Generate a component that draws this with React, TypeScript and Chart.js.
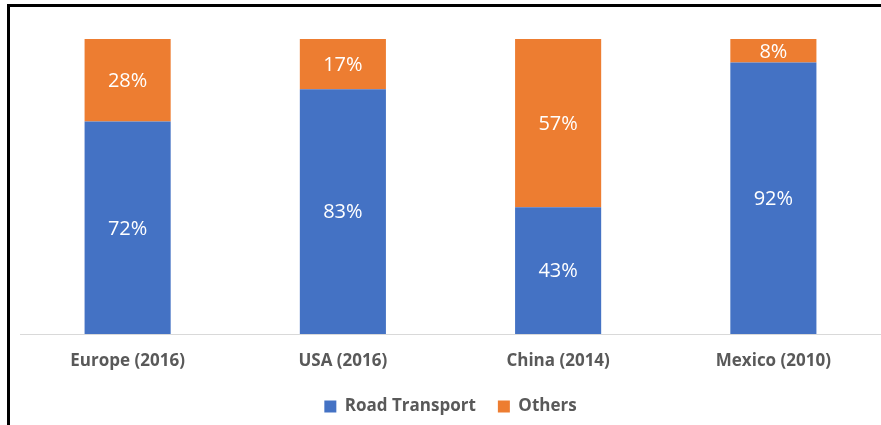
import React, { useEffect, useRef } from "react";
import { Chart, registerables } from "chart.js";

Chart.register(...registerables);

const categories = ["Europe (2016)", "USA (2016)", "China (2014)", "Mexico (2010)"];
const roadTransport = [72, 83, 43, 92];
const others = [28, 17, 57, 8];

const AXIS_Y = 334;
const BOTTOM_PAD = 0;

const frameLines = {
  id: "frameLines",
  afterDraw(chart: any) {
    const ctx = chart.ctx;
    ctx.save();
    ctx.fillStyle = "#000000";
    ctx.fillRect(7, 4, 881, 3);
    ctx.fillRect(7, 4, 3, 425);
    ctx.restore();
  },
};

const valueLabels = {
  id: "valueLabels",
  afterDatasetsDraw(chart: any) {
    const ctx = chart.ctx;
    ctx.save();
    ctx.fillStyle = "#ffffff";
    ctx.font = "20px 'Open Sans', sans-serif";
    ctx.textAlign = "center";
    ctx.textBaseline = "middle";
    chart.data.datasets.forEach((ds: any, di: number) => {
      const meta = chart.getDatasetMeta(di);
      meta.data.forEach((bar: any, i: number) => {
        const v = ds.data[i];
        const { x, y, base } = bar.getProps(["x", "y", "base"], true);
        ctx.fillText(v + "%", x, (y + base) / 2 + 1);
      });
    });
    ctx.restore();
  },
};

export default function App() {
  const ref = useRef<HTMLCanvasElement>(null);
  useEffect(() => {
    if (!ref.current) return;
    const chart = new Chart(ref.current, {
      type: "bar",
      data: {
        labels: categories,
        datasets: [
          { label: "Road Transport", data: roadTransport, backgroundColor: "#4472C4", barPercentage: 0.4, categoryPercentage: 1 },
          { label: "Others", data: others, backgroundColor: "#ED7D31", barPercentage: 0.4, categoryPercentage: 1 },
        ],
      },
      options: {
        animation: false,
        responsive: false,
        maintainAspectRatio: false,
        layout: { padding: { left: 20, right: 0, top: 39, bottom: BOTTOM_PAD } },
        plugins: {
          legend: {
            position: "bottom",
            labels: {
              boxWidth: 12,
              boxHeight: 12,
              color: "#595959",
              font: { family: "'Open Sans', sans-serif", size: 17, weight: "bold" },
              padding: 22,
            },
          },
          tooltip: { enabled: false },
        },
        scales: {
          x: {
            stacked: true,
            grid: { display: false, drawTicks: false },
            border: { display: true, color: "#D9D9D9", width: 1 },
            ticks: {
              color: "#595959",
              padding: 17,
              font: { family: "'Open Sans', sans-serif", size: 17, weight: "bold" },
            },
            afterFit(scale: any) {
              const lg = scale.chart.legend;
              const lh = lg && lg.height ? lg.height : 40;
              scale.height = 425 - BOTTOM_PAD - lh - AXIS_Y;
            },
          },
          y: {
            stacked: true,
            display: false,
            min: 0,
            max: 100,
          },
        },
      },
      plugins: [valueLabels, frameLines],
    });
    return () => chart.destroy();
  }, []);
  return (
    <div style={{ position: "absolute", left: 0, top: 0, width: 881, height: 425, background: "#fff" }}>
      <canvas ref={ref} width={881} height={425} style={{ display: "block" }} />
    </div>
  );
}
